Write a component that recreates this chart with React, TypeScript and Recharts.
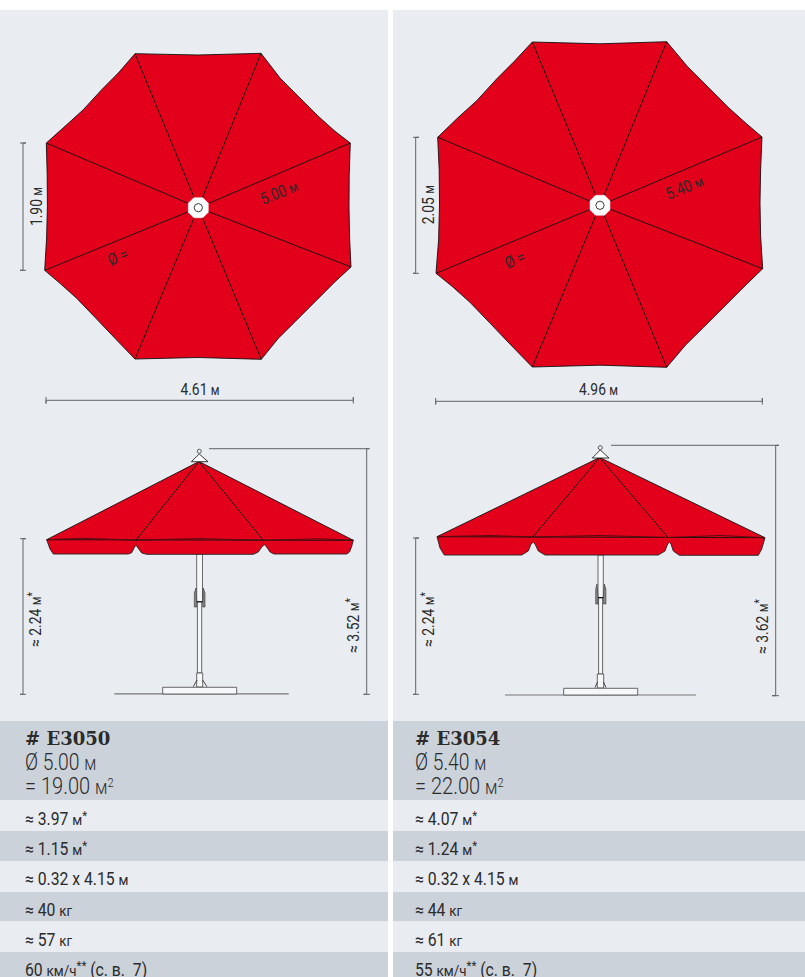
import { ScatterChart, Scatter, XAxis, YAxis, ReferenceArea } from 'recharts';

const W = 805;
const H = 977;

const RED = '#e2001a';
const LIGHT = '#e9edf1';
const DARK = '#cbd2d9';
const INK = '#2b2b2b';
const GREY = '#5f6468';

type Pts = number[][];

// bands behind the drawings and the table [top, bottom, colour]
const rowBands: [number, number, string][] = [
  [10, 721, LIGHT],
  [721, 800, DARK],
  [800, 831, LIGHT],
  [831, 861, DARK],
  [861, 892, LIGHT],
  [892, 921.5, DARK],
  [921.5, 952, LIGHT],
  [952, 977, DARK],
];
const columns = [
  [0, 388],
  [393, 805],
];

// plan views, outlines
const planLeft: Pts = [
  [135, 53.7], [198, 55], [261, 53.3], [280, 78], [298.3, 96.3], [318.3, 116.3], [335, 131.3], [350.3, 143],
  [349.2, 175], [349, 207], [349.6, 238], [351, 267], [335, 281.7], [315, 301.7], [295, 321.7], [278.3, 338.3], [261.3, 359.3],
  [198, 357.5], [135, 359], [115, 338.3], [95, 317.3], [76.7, 298.3], [60, 283.3], [44.7, 270.3],
  [46.6, 238], [47.4, 207], [47.2, 175], [46.3, 143], [65, 126.3], [83.3, 109.7], [101.7, 89.7], [118.3, 73],
];
const planLeftHub = [198.3, 207.7];
const planLeftRibs: Pts = [[135, 53.7], [261, 53.3], [350.3, 143], [351, 267], [261.3, 359.3], [135, 359], [44.7, 270.3], [46.3, 143]];

const planRight: Pts = [
  [532.3, 42], [600, 43.8], [666.7, 41.7], [687.4, 66.5], [707, 86.1], [728.4, 107.5], [746.3, 123.6], [762, 137],
  [760.6, 170], [760, 203], [760.6, 236], [762.7, 268.7], [746.3, 284.5], [724.9, 305.9], [703.5, 327.3], [685.6, 345], [666.7, 367.3],
  [600, 365.2], [532.3, 367], [510.9, 345], [489.5, 322.6], [469.9, 302.2], [452, 286.2], [436, 273.3],
  [438.6, 240], [439.5, 205], [439.2, 170], [437.7, 137.3], [457.4, 118.2], [477, 100.4], [496.6, 79], [514.4, 61.2],
];
const planRightHub = [600, 205.3];
const planRightRibs: Pts = [[532.3, 42], [666.7, 41.7], [762, 137], [762.7, 268.7], [666.7, 367.3], [532.3, 367], [436, 273.3], [437.7, 137.3]];

// octagon offsets of the hub
const hubOctagon: Pts = [[-4.5, -10], [4.5, -10], [10, -4.5], [10, 4.5], [4.5, 10], [-4.5, 10], [-10, 4.5], [-10, -4.5]];
const hubRing: Pts = [[0, -4.2], [3, -3], [4.2, 0], [3, 3], [0, 4.2], [-3, 3], [-4.2, 0], [-3, -3]];

// side views
const canopyLeft: Pts = [[199, 461.5], [353.3, 540.3], [46.7, 539.7]];
const valanceLeft: Pts = [
  [46.7, 539.7], [80, 538.3], [136, 540], [199, 538.6], [263.3, 540.3], [320, 538.8], [353.3, 540.3],
  [351.5, 547], [349.5, 552], [346.7, 554], [274, 554], [270, 552], [266.7, 547], [264.3, 544.7], [261.7, 547],
  [258.3, 552], [253.3, 554.3], [146.7, 554.3], [141.7, 553], [138, 548], [136, 545], [134, 548], [131.7, 552.7],
  [128.3, 554], [53.3, 554], [50, 549],
];
const seamLeft: Pts = [[46.7, 539.7], [80, 538.3], [136, 540], [199, 538.6], [263.3, 540.3], [320, 538.8], [353.3, 540.3]];
const ribsLeft: Pts[] = [[[136, 540], [199, 461.5]], [[263.3, 540.3], [199, 461.5]]];
const capLeft: Pts = [[199.3, 454], [208, 461.7], [191.3, 461.7]];
const ringLeft: Pts = [[199.3, 449.2], [200.8, 449.8], [201.4, 451.3], [200.8, 452.8], [199.3, 453.4], [197.8, 452.8], [197.2, 451.3], [197.8, 449.8]];

const canopyRight: Pts = [[599.7, 457.5], [765, 537.7], [437, 536.7]];
const valanceRight: Pts = [
  [437, 536.7], [490, 535.5], [532.7, 537], [600, 535.5], [668, 537.5], [720, 535.5], [765, 537.7],
  [761.7, 549], [758.3, 555.3], [679.3, 555.3], [673.3, 551], [671, 544], [669.3, 542.3], [667.7, 544], [665, 551],
  [658.3, 555], [545, 555], [538.3, 551], [535, 544], [533.3, 542.3], [531, 544], [528.3, 551], [521.7, 555],
  [444.3, 555], [440, 548],
];
const seamRight: Pts = [[437, 536.7], [490, 535.5], [532.7, 537], [600, 535.5], [668, 537.5], [720, 535.5], [765, 537.7]];
const ribsRight: Pts[] = [[[532.7, 537], [599.7, 457.5]], [[668, 537.5], [599.7, 457.5]]];
const capRight: Pts = [[600.3, 450], [609, 458], [592.3, 458]];
const ringRight: Pts = [[600.3, 445.6], [601.8, 446.2], [602.4, 447.7], [601.8, 449.2], [600.3, 449.8], [598.8, 449.2], [598.2, 447.7], [598.8, 446.2]];

// mast parts, left and right umbrella
const whiteParts: Pts[] = [
  [[196.7, 554], [202.5, 554], [202.5, 602], [196.7, 602]],
  [[197.4, 602], [201.7, 602], [201.7, 673], [197.4, 673]],
  [[196.7, 673], [202.7, 673], [202.7, 687], [196.7, 687]],
  [[162.7, 687.3], [236.7, 687.3], [236.7, 694], [162.7, 694]],
  [[598, 555], [603.3, 555], [603.3, 598], [598, 598]],
  [[598.6, 598], [602.6, 598], [602.6, 674], [598.6, 674]],
  [[597.3, 674], [603.7, 674], [603.7, 688], [597.3, 688]],
  [[563.7, 688.3], [637.7, 688.3], [637.7, 695], [563.7, 695]],
];
const clampParts: Pts[] = [
  [[196, 588], [194.3, 593], [194.3, 607], [196.7, 607], [196.7, 601]],
  [[203.2, 588], [205, 593], [205, 607], [202.7, 607], [202.7, 601]],
  [[597, 584], [595.7, 589], [595.7, 604], [598, 604], [598, 597]],
  [[604.3, 584], [605.9, 589], [605.9, 604], [603.4, 604], [603.4, 597]],
];
const footLines: Pts[] = [
  [[193.3, 686.7], [197, 680]],
  [[207, 686.7], [202.7, 680]],
  [[595, 687.5], [597.5, 682]],
  [[606, 687.5], [603.5, 682]],
];
const collarLines: Pts[] = [
  [[196.7, 601.7], [202.7, 601.7]],
  [[598, 597.5], [603.4, 597.5]],
];

// ground lines
const groundLines: Pts[] = [
  [[114.3, 693.8], [288.7, 693.8]],
  [[505, 695], [696, 695]],
];

// dimension lines with their end caps
const dimensionLines: Pts[] = [
  [[20, 143], [26, 143], [23, 143], [23, 270.3], [20, 270.3], [26, 270.3]],
  [[46, 397], [46, 403.5], [46, 400.3], [353.3, 400.3], [353.3, 397], [353.3, 403.5]],
  [[20, 538.7], [26, 538.7], [23, 538.7], [23, 694.3], [20, 694.3], [26, 694.3]],
  [[209, 448.7], [369.5, 448.7], [366.7, 448.7], [366.7, 694.3], [363.5, 694.3], [370, 694.3]],
  [[413, 137.3], [419, 137.3], [415.7, 137.3], [415.7, 273.3], [413, 273.3], [419, 273.3]],
  [[435.7, 398], [435.7, 404.5], [435.7, 401.3], [762.3, 401.3], [762.3, 398], [762.3, 404.5]],
  [[413, 538], [419, 538], [415.7, 538], [415.7, 694.3], [413, 694.3], [419, 694.3]],
  [[611, 445.3], [779, 445.3], [775.7, 445.3], [775.7, 695.7], [772, 695.7], [779, 695.7]],
];

// text: "~" starts a small unit run, "^" a raised run, runs split by "|"
type Label = { x: number; y: number; text: string; rot?: number; size?: number; wide?: number; anchor?: string; serif?: boolean; light?: boolean };

const drawingLabels: Label[] = [
  { x: 41.5, y: 206.5, text: '1.90 |~м', rot: -90, anchor: 'middle' },
  { x: 200, y: 395, text: '4.61 |~м', anchor: 'middle' },
  { x: 281, y: 197.5, text: '5.00 |~м', rot: -22.5, anchor: 'middle' },
  { x: 120, y: 262, text: 'Ø =', rot: -22.5, anchor: 'middle' },
  { x: 40.5, y: 647, text: '≈ 2.24 |~м|^*', rot: -90 },
  { x: 358.5, y: 653, text: '≈ 3.52 |~м|^*', rot: -90 },
  { x: 434.3, y: 204.7, text: '2.05 |~м', rot: -90, anchor: 'middle' },
  { x: 598.5, y: 395, text: '4.96 |~м', anchor: 'middle' },
  { x: 686.5, y: 192.5, text: '5.40 |~м', rot: -22.5, anchor: 'middle' },
  { x: 517, y: 265, text: 'Ø =', rot: -22.5, anchor: 'middle' },
  { x: 434, y: 647, text: '≈ 2.24 |~м|^*', rot: -90 },
  { x: 768.3, y: 654, text: '≈ 3.62 |~м|^*', rot: -90 },
];

const rowBaselines = [825, 855, 885, 916, 946, 975.5];
const rowsLeft = ['≈ 3.97 |~м|^*', '≈ 1.15 |~м|^*', '≈ 0.32 x 4.15 |~м', '≈ 40 |~кг', '≈ 57 |~кг', '60 |~км/ч|^**| (с. в.  7)'];
const rowsRight = ['≈ 4.07 |~м|^*', '≈ 1.24 |~м|^*', '≈ 0.32 x 4.15 |~м', '≈ 44 |~кг', '≈ 61 |~кг', '55 |~км/ч|^**| (с. в.  7)'];

const headLeft = ['# E3050', 'Ø 5.00 |~м', '= 19.00 |~м|^2'];
const headRight = ['# E3054', 'Ø 5.40 |~м', '= 22.00 |~м|^2'];

const columnLabels = (x: number, head: string[], rows: string[]): Label[] => [
  { x, y: 745, text: head[0], serif: true, size: 19, wide: 0.95 },
  { x, y: 770, text: head[1], size: 23, light: true },
  { x, y: 794, text: head[2], size: 23, light: true, wide: 0.87 },
  ...rows.map((text, i) => ({ x, y: rowBaselines[i], text, size: 17.5, wide: 0.9 })),
];

const allLabels: Label[] = [
  ...drawingLabels,
  ...columnLabels(25, headLeft, rowsLeft),
  ...columnLabels(415, headRight, rowsRight),
];

const toPoints = (pts: Pts) => pts.map(([x, y]) => ({ x, y }));
const shift = (pts: Pts, c: number[]) => pts.map(([x, y]) => [x + c[0], y + c[1]]);
const noDot = () => <g />;

function shape(key: string, pts: Pts, fill: string, stroke: string, width: number, closed = true) {
  return (
    <Scatter
      key={key}
      data={toPoints(pts)}
      isAnimationActive={false}
      shape={noDot}
      line={(p: any) => (
        <path
          d={
            p.points.map((q: any, i: number) => `${i ? 'L' : 'M'}${q.x} ${q.y}`).join(' ') + (closed ? ' Z' : '')
          }
          fill={fill}
          stroke={stroke}
          strokeWidth={width}
          strokeLinejoin="round"
        />
      )}
    />
  );
}

function TextMark(props: any) {
  const d: Label = props.payload ?? props;
  const size = d.size ?? 16.5;
  const sx = d.wide ?? 0.84;
  const runs = d.text.split('|');
  return (
    <text
      transform={`translate(${props.cx} ${props.cy}) rotate(${d.rot ?? 0}) scale(${sx} 1)`}
      textAnchor={d.anchor ?? 'start'}
      fontFamily={d.serif ? 'DejaVu Serif' : 'Roboto'}
      fontWeight={d.serif ? 700 : d.light ? 300 : 400}
      fontSize={size}
      fill={INK}
      xmlSpace="preserve"
    >
      {runs.map((r, i) => {
        if (r[0] === '~') {
          return <tspan key={i} fontSize={size * 0.85}>{r.slice(1)}</tspan>;
        }
        if (r[0] === '^') {
          const small = r[1] === '2' ? 0.55 : 0.72;
          return (
            <tspan key={i} fontSize={size * small} dy={-size * 0.3}>
              {r.slice(1)}
            </tspan>
          );
        }
        return <tspan key={i} dy={i && runs[i - 1][0] === '^' ? size * 0.3 : undefined}>{r}</tspan>;
      })}
    </text>
  );
}

function plan(id: string, outline: Pts, ribs: Pts, hub: number[]) {
  return [
    shape(`${id}-o`, outline, RED, '#111', 0.9),
    ...ribs.map((r, i) => shape(`${id}-r${i}`, [hub, r], 'none', '#111', 0.9, false)),
    shape(`${id}-h`, shift(hubOctagon, hub), '#fff', '#fff', 0.5),
    shape(`${id}-c`, shift(hubRing, hub), '#fff', '#222', 0.9),
  ];
}

function side(id: string, canopy: Pts, valance: Pts, seam: Pts, ribs: Pts[], cap: Pts, ring: Pts) {
  return [
    shape(`${id}-v`, valance, RED, '#222', 0.9),
    shape(`${id}-k`, canopy, RED, '#111', 0.9),
    shape(`${id}-s`, seam, 'none', '#5a0a12', 1, false),
    ...ribs.map((r, i) => shape(`${id}-r${i}`, r, 'none', '#111', 0.9, false)),
    shape(`${id}-t`, cap, '#fff', '#222', 0.9),
    shape(`${id}-n`, ring, LIGHT, '#333', 0.8),
  ];
}

export default function App() {
  return (
    <div style={{ width: W, height: H, background: '#fff' }}>
      <style>{'body{margin:0}'}</style>
      <ScatterChart width={W} height={H} margin={{ top: 0, right: 0, bottom: 0, left: 0 }}>
        <XAxis type="number" dataKey="x" domain={[0, W]} hide />
        <YAxis type="number" dataKey="y" domain={[0, H]} reversed hide />
        {columns.flatMap(([x1, x2]) =>
          rowBands.map(([y1, y2, c]) => (
            <ReferenceArea key={`${x1}-${y1}`} x1={x1} x2={x2} y1={y1} y2={y2} fill={c} fillOpacity={1} stroke="none" />
          )),
        )}
        {groundLines.map((g, i) => shape(`g${i}`, g, 'none', '#777', 1.2, false))}
        {whiteParts.map((p, i) => shape(`w${i}`, p, '#f6f7f8', '#444', 0.8))}
        {clampParts.map((p, i) => shape(`cl${i}`, p, '#85898d', '#333', 0.6))}
        {footLines.map((p, i) => shape(`f${i}`, p, 'none', '#333', 0.9, false))}
        {collarLines.map((p, i) => shape(`co${i}`, p, 'none', '#111', 1, false))}
        {plan('pl', planLeft, planLeftRibs, planLeftHub)}
        {plan('pr', planRight, planRightRibs, planRightHub)}
        {side('sl', canopyLeft, valanceLeft, seamLeft, ribsLeft, capLeft, ringLeft)}
        {side('sr', canopyRight, valanceRight, seamRight, ribsRight, capRight, ringRight)}
        {dimensionLines.map((d, i) => shape(`d${i}`, d, 'none', GREY, 1, false))}
        <Scatter data={allLabels} isAnimationActive={false} shape={TextMark} />
      </ScatterChart>
    </div>
  );
}
